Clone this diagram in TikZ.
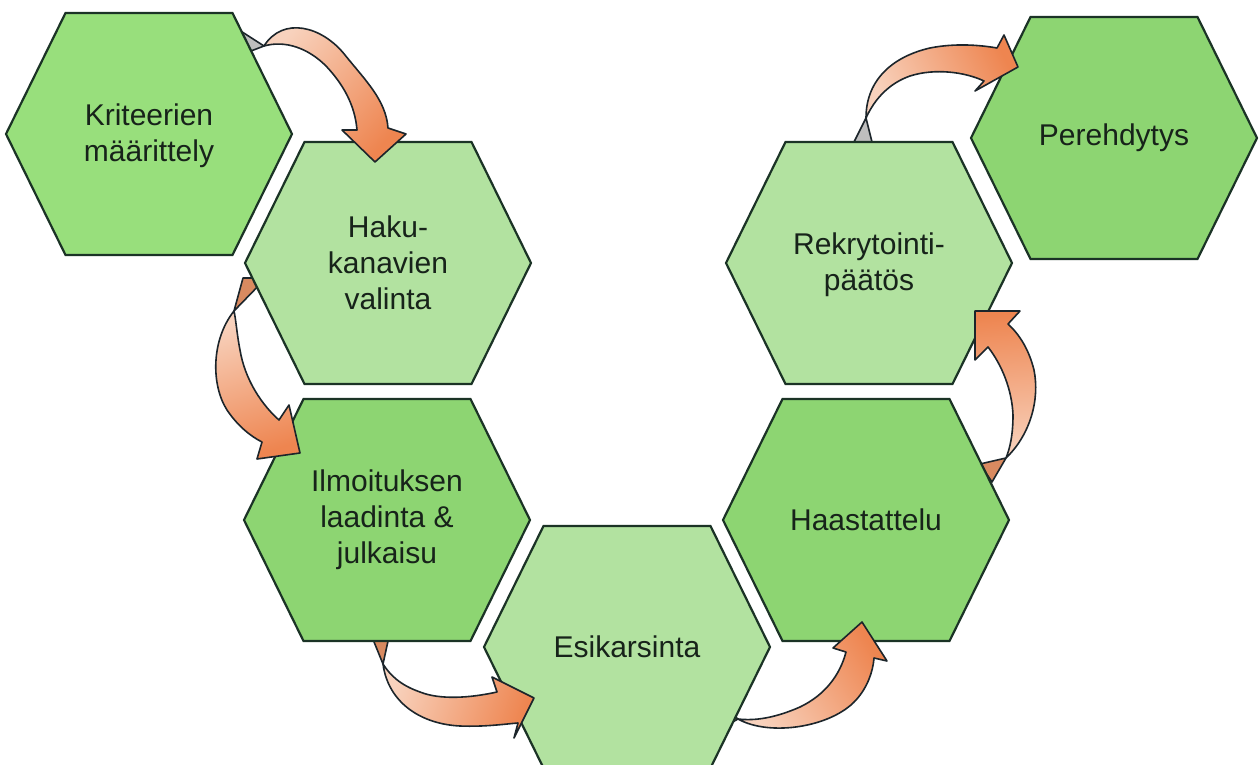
\documentclass[tikz,border=0pt]{standalone}
\usepackage{fontspec}
\setmainfont{Liberation Sans}
\definecolor{hexline}{HTML}{1B3326}
\definecolor{greenA}{HTML}{98DF7C}
\definecolor{greenL}{HTML}{B2E2A0}
\definecolor{greenM}{HTML}{8DD572}
\definecolor{arrowline}{HTML}{1C252B}
\definecolor{tailc}{HTML}{F8D2BD}
\definecolor{headc}{HTML}{EE8550}
\definecolor{backgrey}{HTML}{BEBEBE}
\definecolor{backorange}{HTML}{D98A60}
\definecolor{labelc}{HTML}{17231A}

% flat-topped hexagon: centre x, centre y, fill colour
\newcommand{\hexcell}[3]{%
  \draw[hexcellstyle, fill=#3] (#1-143,#2) -- (#1-83.5,#2-121) -- (#1+83.5,#2-121)
    -- (#1+143,#2) -- (#1+83.5,#2+121) -- (#1-83.5,#2+121) -- cycle;}

\tikzset{
  hexcellstyle/.style={draw=hexline, line width=2.2pt, line join=miter},
  steplabel/.style={text=labelc, align=center, font=\fontsize{30}{36}\selectfont},
  arrowbody/.style={draw=arrowline, line width=1.6pt, line join=round,
    top color=tailc, bottom color=headc},
  arrowback/.style={draw=arrowline, line width=1.6pt, line join=round},
}

\begin{document}
\begin{tikzpicture}[x=1pt, y=-1pt]
\useasboundingbox (0,0) rectangle (1259,765);
\fill[white] (0,0) rectangle (1259,765);

% 7: Perehdytys
\hexcell{1114}{138}{greenM}
\node[steplabel] (h7) at (1114,138) {Perehdytys};

% arrow 6 -> 7
\draw[arrowback, fill=backgrey] (866,118) -- (850,150) -- (874,150) -- cycle;
\draw[arrowbody, shading angle=116]
  (866,118) .. controls (866,78) and (895,56) .. (930,48)
  .. controls (955,43) and (980,45) .. (997,48)
  -- (1004,35) -- (1018,67) -- (975,91) -- (984,81)
  .. controls (965,72) and (935,68) .. (910,76)
  .. controls (890,83) and (875,98) .. (866,118) -- cycle;

% 6: Rekrytointipäätös
\hexcell{869}{263}{greenL}
\node[steplabel] (h6) at (869,265) {Rekrytointi-\\päätös};

% arrow 5 -> 6
\draw[arrowback, fill=backorange] (1006,458) -- (980,464) -- (992,482) -- cycle;
\draw[arrowbody, shading angle=184]
  (1006,458) .. controls (1030,435) and (1040,400) .. (1034,370)
  .. controls (1029,350) and (1020,335) .. (1008,324)
  -- (1020,311) -- (975,311) -- (975,360) -- (988,347)
  .. controls (1002,365) and (1012,390) .. (1013,415)
  .. controls (1013,435) and (1010,448) .. (1006,458) -- cycle;

% 5: Haastattelu
\hexcell{866}{520}{greenM}
\node[steplabel] (h5) at (866,520) {Haastattelu};

% arrow 4 -> 5
\draw[arrowback, fill=backorange] (738,719) -- (724,708) -- (722,728) -- cycle;
\draw[arrowbody, shading angle=123]
  (738,719) .. controls (770,737) and (832,727) .. (856,700)
  .. controls (867,688) and (873,672) .. (874,658)
  -- (887,661) -- (862,622) -- (833,648) -- (846,652)
  .. controls (840,675) and (825,695) .. (800,707)
  .. controls (775,718) and (755,721) .. (738,719) -- cycle;

% 4: Esikarsinta
\hexcell{627}{647}{greenL}
\node[steplabel] (h4) at (627,647) {Esikarsinta};

% arrow 3 -> 4
\draw[arrowback, fill=backorange] (383,664) -- (370,632) -- (390,632) -- cycle;
\draw[arrowbody, shading angle=71]
  (383,664) .. controls (388,702) and (420,724) .. (460,726)
  .. controls (485,727) and (505,724) .. (518,723)
  -- (514,738) -- (534,698) -- (492,677) -- (497,692)
  .. controls (470,698) and (440,700) .. (420,692)
  .. controls (400,685) and (390,675) .. (383,664) -- cycle;

% 3: Ilmoituksen laadinta & julkaisu
\hexcell{387}{520}{greenM}
\node[steplabel] (h3) at (387,520) {Ilmoituksen\\laadinta \&\\julkaisu};

% arrow 2 -> 3
\draw[arrowback, fill=backorange] (234,311) -- (243,278) -- (266,278) -- cycle;
\draw[arrowbody, shading angle=17]
  (234,311) .. controls (211,340) and (211,385) .. (227,410)
  .. controls (237,425) and (250,436) .. (262,442)
  -- (257,459) -- (300,453) -- (289,405) -- (279,420)
  .. controls (262,405) and (245,380) .. (240,350)
  .. controls (237,335) and (236,320) .. (234,311) -- cycle;

% 2: Hakukanavien valinta
\hexcell{388}{263}{greenL}
\node[steplabel] (h2) at (388,263) {Haku-\\kanavien\\valinta};

% arrow 1 -> 2
\draw[arrowback, fill=backgrey] (264,46) -- (236,28) -- (238,56) -- cycle;
\draw[arrowbody, shading angle=48]
  (264,46) .. controls (283,16) and (322,26) .. (345,55)
  .. controls (365,80) and (386,100) .. (388,128)
  -- (406,134) -- (375,162) -- (342,130) -- (357,130)
  .. controls (355,105) and (343,84) .. (326,66)
  .. controls (308,48) and (285,40) .. (264,46) -- cycle;

% 1: Kriteerien määrittely
\hexcell{149}{134}{greenA}
\node[steplabel] (h1) at (149,136) {Kriteerien\\määrittely};
\end{tikzpicture}
\end{document}
